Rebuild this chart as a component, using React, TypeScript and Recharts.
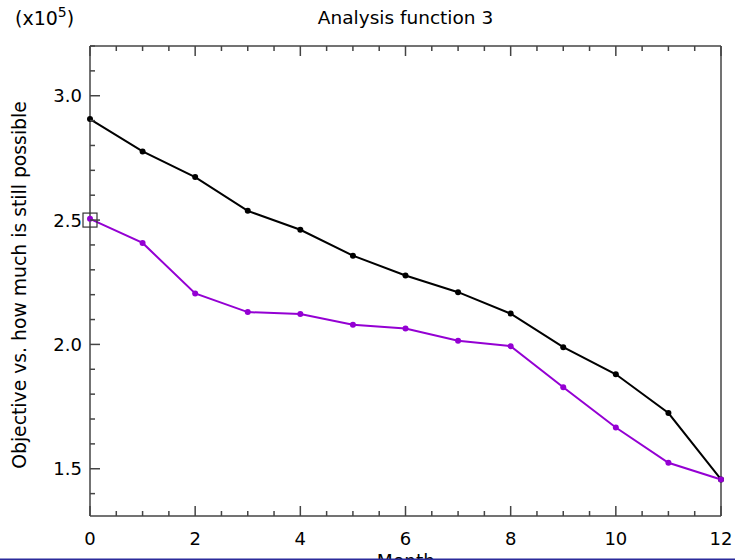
import React from 'react';
import { LineChart, Line, XAxis, YAxis, ReferenceDot, Customized } from 'recharts';

const months = [0, 1, 2, 3, 4, 5, 6, 7, 8, 9, 10, 11, 12];
const objective = [2.906, 2.776, 2.673, 2.537, 2.461, 2.357, 2.277, 2.21, 2.124, 1.989, 1.88, 1.724, 1.457];
const possible = [2.505, 2.408, 2.205, 2.13, 2.122, 2.079, 2.064, 2.015, 1.993, 1.828, 1.666, 1.524, 1.457];
const xTicks = [0, 0.5, 1, 1.5, 2, 2.5, 3, 3.5, 4, 4.5, 5, 5.5, 6, 6.5, 7, 7.5, 8, 8.5, 9, 9.5, 10, 10.5, 11, 11.5, 12];
const yTicks = [1.4, 1.5, 1.6, 1.7, 1.8, 1.9, 2.0, 2.1, 2.2, 2.3, 2.4, 2.5, 2.6, 2.7, 2.8, 2.9, 3.0, 3.1, 3.2];
const xDomain = [0, 12];
const yDomain = [1.31, 3.2];
const highlight = { x: 0, y: 2.5 };

const data = months.map((m, i) => ({ month: m, objective: objective[i], possible: possible[i] }));

const FONT = 'DejaVu Sans, sans-serif';
const AXIS = '#444';

const isMajorX = (v: number) => Math.abs(v / 2 - Math.round(v / 2)) < 1e-6;
const isMajorY = (v: number) => Math.abs(v * 2 - Math.round(v * 2)) < 1e-6;

const BottomTick = (p: any) => {
  const v = p.payload.value;
  const major = isMajorX(v);
  return (
    <g>
      <line x1={p.x} x2={p.x} y1={p.y} y2={p.y - (major ? 10 : 5)} stroke={AXIS} strokeWidth={1.5} />
      {major && (
        <text x={p.x} y={p.y + 29} textAnchor="middle" fontFamily={FONT} fontSize={18} fill="#000">
          {v}
        </text>
      )}
    </g>
  );
};
const TopTick = (p: any) => {
  const v = p.payload.value;
  const major = isMajorX(v);
  return <line x1={p.x} x2={p.x} y1={p.y} y2={p.y + (major ? 10 : 5)} stroke={AXIS} strokeWidth={1.5} />;
};
const LeftTick = (p: any) => {
  const v = p.payload.value;
  const major = isMajorY(v);
  return (
    <g>
      <line x1={p.x} x2={p.x + (major ? 10 : 5)} y1={p.y} y2={p.y} stroke={AXIS} strokeWidth={1.5} />
      {major && (
        <text x={p.x - 8} y={p.y + 6.5} textAnchor="end" fontFamily={FONT} fontSize={18} fill="#000">
          {v.toFixed(1)}
        </text>
      )}
    </g>
  );
};
const RightTick = (p: any) => {
  const v = p.payload.value;
  const major = isMajorY(v);
  return <line x1={p.x} x2={p.x - (major ? 10 : 5)} y1={p.y} y2={p.y} stroke={AXIS} strokeWidth={1.5} />;
};

const Decor = () => (
  <g>
    <text x={405.5} y={24} textAnchor="middle" fontFamily={FONT} fontSize={18.5} fill="#000">
      Analysis function 3
    </text>
    <text x={15} y={25} fontFamily={FONT} fontSize={19} fill="#000">
      (x10<tspan dy={-8} fontSize={14}>5</tspan><tspan dy={8}>)</tspan>
    </text>
    <text
      x={26}
      y={285}
      transform="rotate(-90 26 285)"
      textAnchor="middle"
      fontFamily={FONT}
      fontSize={18.8}
      fill="#000"
    >
      Objective vs. how much is still possible
    </text>
    <text x={406} y={568} textAnchor="middle" fontFamily={FONT} fontSize={18.6} fill="#000">
      Month
    </text>
    <rect x={0} y={558.5} width={735} height={1.5} fill="#2b2b9a" />
  </g>
);

export default function App() {
  return (
    <div style={{ position: 'absolute', left: 0, top: 0, width: 735, height: 560, overflow: 'hidden', background: '#fff' }}>
      <LineChart width={735} height={560} data={data} margin={{ top: 45, right: 13, bottom: 14, left: 40 }}>
        <XAxis
          xAxisId="top"
          orientation="top"
          dataKey="month"
          type="number"
          domain={xDomain}
          ticks={xTicks}
          interval={0}
          height={1}
          tickSize={0}
          tickMargin={0}
          tickLine={false}
          tick={<TopTick />}
          axisLine={{ stroke: AXIS, strokeWidth: 1.5 }}
        />
        <XAxis
          xAxisId="bottom"
          orientation="bottom"
          dataKey="month"
          type="number"
          domain={xDomain}
          ticks={xTicks}
          interval={0}
          height={30}
          tickSize={0}
          tickMargin={0}
          tickLine={false}
          tick={<BottomTick />}
          axisLine={{ stroke: AXIS, strokeWidth: 1.5 }}
        />
        <YAxis
          yAxisId="right"
          orientation="right"
          type="number"
          domain={yDomain}
          ticks={yTicks}
          interval={0}
          width={1}
          tickSize={0}
          tickMargin={0}
          tickLine={false}
          tick={<RightTick />}
          axisLine={{ stroke: AXIS, strokeWidth: 1.5 }}
        />
        <YAxis
          yAxisId="left"
          orientation="left"
          type="number"
          domain={yDomain}
          ticks={yTicks}
          interval={0}
          width={50}
          tickSize={0}
          tickMargin={0}
          tickLine={false}
          tick={<LeftTick />}
          axisLine={{ stroke: AXIS, strokeWidth: 1.5 }}
        />
        <Line
          xAxisId="bottom"
          yAxisId="left"
          dataKey="objective"
          stroke="#000"
          strokeWidth={2}
          dot={{ r: 3, fill: '#000', stroke: 'none' }}
          activeDot={false}
          isAnimationActive={false}
        />
        <Line
          xAxisId="bottom"
          yAxisId="left"
          dataKey="possible"
          stroke="#9400d3"
          strokeWidth={2}
          dot={{ r: 3, fill: '#9400d3', stroke: 'none' }}
          activeDot={false}
          isAnimationActive={false}
        />
        <ReferenceDot
          xAxisId="bottom"
          yAxisId="left"
          x={highlight.x}
          y={highlight.y}
          shape={(p: any) => (
            <rect x={p.cx - 7} y={p.cy - 7} width={14} height={14} fill="none" stroke="#333" strokeWidth={1.2} />
          )}
        />
        <Customized component={Decor} />
      </LineChart>
    </div>
  );
}
